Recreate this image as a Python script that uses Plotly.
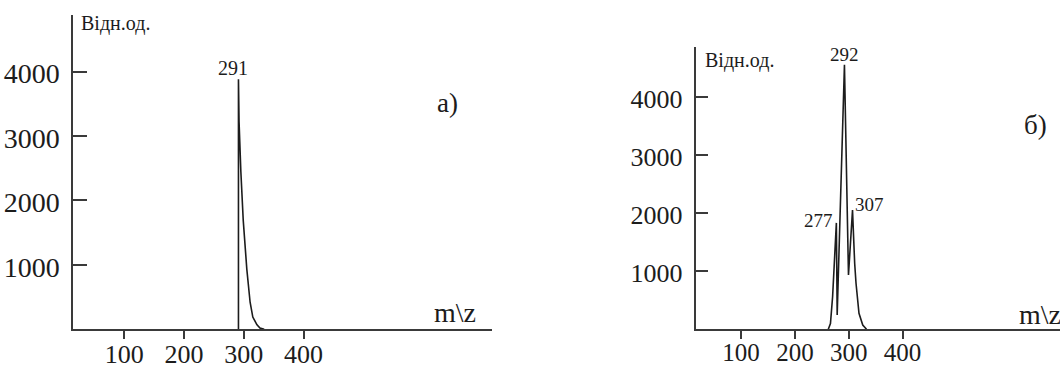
import plotly.graph_objects as go

W, H = 1060, 365

# Panel а): single peak with a tail on the high-mass side
mz_a = [291, 291, 292, 295, 299, 305, 310.5, 315, 322, 327, 334]
int_a = [0, 3880, 3220, 2450, 1690, 930, 420, 190, 70, 20, 0]
peaks_a = [291]
peak_int_a = [3880]

# Panel б): three overlapping peaks
mz_b = [262, 266, 270, 272.5, 277, 278.5, 292, 299.5, 307, 311, 313.5, 319, 326, 333]
int_b = [0, 100, 560, 1020, 1830, 246, 4550, 934, 2050, 1135, 791, 275, 74, 0]
peaks_b = [277, 292, 307]
peak_int_b = [1830, 4550, 2050]

x_ticks = [100, 200, 300, 400]
y_ticks = [1000, 2000, 3000, 4000]
y_title = "Відн.од."
x_title = "m\\z"
panel_a = "а)"
panel_b = "б)"

FONT = "Liberation Serif, Times New Roman, serif"
INK = "#1c1c1c"
AXIS = "#3a3a3a"


def px(x):
    return x / W


def py(y):
    return 1 - y / H


fig = go.Figure()
fig.add_trace(go.Scatter(x=mz_a, y=int_a, mode="lines",
                         line=dict(color=INK, width=1.6),
                         xaxis="x", yaxis="y", showlegend=False))
fig.add_trace(go.Scatter(x=mz_b, y=int_b, mode="lines",
                         line=dict(color=INK, width=1.6),
                         xaxis="x2", yaxis="y2", showlegend=False))

common_x = dict(showgrid=False, zeroline=False, showline=True, linecolor=AXIS,
                linewidth=2, ticks="outside", ticklen=8, tickwidth=1.5,
                tickcolor=AXIS, tickvals=x_ticks, ticklabelstandoff=-8,
                automargin=False)
common_y = dict(showgrid=False, zeroline=False, showline=True, linecolor=AXIS,
                linewidth=2, ticks="inside", tickwidth=1.5, tickcolor=AXIS,
                tickvals=y_ticks, ticklabelstandoff=6, ticklabelshift=2,
                automargin=False)

fig.update_layout(
    width=W, height=H,
    margin=dict(l=0, r=0, t=0, b=0, autoexpand=False),
    paper_bgcolor="white", plot_bgcolor="white",
    font=dict(family=FONT, color=INK),
    xaxis=dict(domain=[px(73.3), px(491.7)], range=[14.6, 714.8],
               anchor="y", tickfont=dict(size=26, family=FONT, color=INK),
               **common_x),
    yaxis=dict(domain=[py(329.3), py(15)], range=[0, 4877],
               anchor="x", ticklen=14,
               tickfont=dict(size=28, family=FONT, color=INK), **common_y),
    xaxis2=dict(domain=[px(695.7), 1.0], range=[15.7, 692.4],
                anchor="y2", tickfont=dict(size=25, family=FONT, color=INK),
                **common_x),
    yaxis2=dict(domain=[py(329.3), py(46.7)], range=[0, 4860],
                anchor="x2", ticklen=12,
                tickfont=dict(size=26, family=FONT, color=INK), **common_y),
)

ann = []
# peak labels
for m, v in zip(peaks_a, peak_int_a):
    ann.append(dict(x=m, y=v, xref="x", yref="y", text=str(m),
                    showarrow=False, xanchor="center", yanchor="bottom",
                    xshift=-5, yshift=-2, font=dict(size=20)))
shifts_b = {277: dict(xanchor="right", yanchor="middle", xshift=-1, yshift=2),
            292: dict(xanchor="center", yanchor="bottom", xshift=0, yshift=-2),
            307: dict(xanchor="left", yanchor="middle", xshift=0, yshift=6)}
for m, v in zip(peaks_b, peak_int_b):
    ann.append(dict(x=m, y=v, xref="x2", yref="y2", text=str(m),
                    showarrow=False, font=dict(size=19), **shifts_b[m]))

# axis captions and panel letters
ann += [
    dict(x=px(79), y=py(24), text=y_title, xanchor="left", yanchor="middle",
         font=dict(size=20)),
    dict(x=px(702.5), y=py(61), text=y_title, xanchor="left", yanchor="middle",
         font=dict(size=20)),
    dict(x=px(435), y=py(103), text=panel_a, xanchor="left", yanchor="middle",
         font=dict(size=27)),
    dict(x=px(1022), y=py(125), text=panel_b, xanchor="left", yanchor="middle",
         font=dict(size=27)),
    dict(x=px(432), y=py(312), text=x_title, xanchor="left", yanchor="middle",
         font=dict(size=28)),
    dict(x=px(1017), y=py(314), text=x_title, xanchor="left", yanchor="middle",
         font=dict(size=28)),
]
for a in ann:
    a.setdefault("xref", "paper")
    a.setdefault("yref", "paper")
    a.setdefault("showarrow", False)
    a["font"] = dict(family=FONT, color=INK, **a["font"])
fig.update_layout(annotations=ann)

fig.write_html("out.html")
